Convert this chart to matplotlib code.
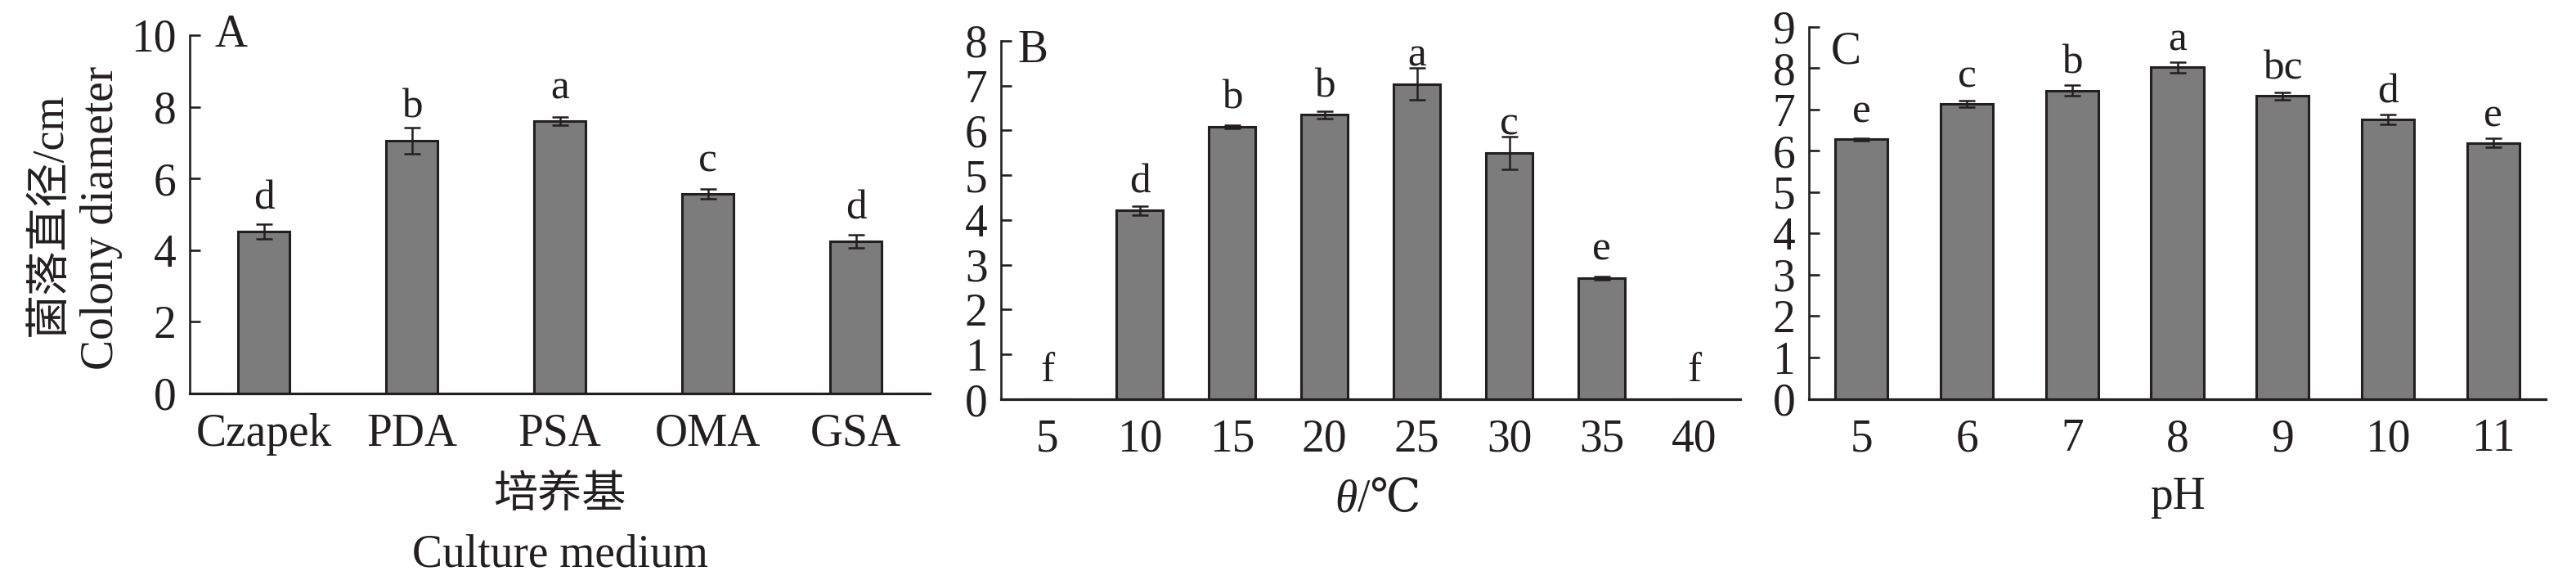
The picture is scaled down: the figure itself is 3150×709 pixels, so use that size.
import numpy as np
import matplotlib
matplotlib.use("Agg")
import matplotlib.pyplot as plt

plt.rcParams['font.family'] = ['Liberation Serif', 'Noto Sans CJK SC']
plt.rcParams['font.size'] = 40

# Panel A - culture medium
media = ["Czapek", "PDA", "PSA", "OMA", "GSA"]
media_diam = [4.52, 7.06, 7.60, 5.57, 4.24]
media_err = [0.21, 0.36, 0.12, 0.13, 0.18]
media_sig = ["d", "b", "a", "c", "d"]

# Panel B - temperature
temps = ["5", "10", "15", "20", "25", "30", "35", "40"]
temp_diam = [0, 4.21, 6.08, 6.35, 7.04, 5.50, 2.70, 0]
temp_err = [0, 0.10, 0.04, 0.08, 0.35, 0.36, 0.04, 0]
temp_sig = ["f", "d", "b", "b", "a", "c", "e", "f"]

# Panel C - pH
ph = ["5", "6", "7", "8", "9", "10", "11"]
ph_diam = [6.28, 7.13, 7.46, 8.02, 7.33, 6.76, 6.19]
ph_err = [0.03, 0.08, 0.13, 0.13, 0.09, 0.12, 0.11]
ph_sig = ["e", "c", "b", "a", "bc", "d", "e"]

BAR = "#7d7c7c"
INK = "#231f20"

fig = plt.figure(figsize=(31.5, 7.09), dpi=100)
axA = fig.add_axes([0.0737, 0.3216, 0.2873, 0.6178])
axB = fig.add_axes([0.3886, 0.3117, 0.2870, 0.6178])
axC = fig.add_axes([0.7022, 0.3124, 0.2861, 0.6411])


def panel(ax, labels, vals, errs, sig, width, ymax, ystep, tag, tag_xy, letter_off):
    x = np.arange(len(labels))
    ax.bar(x, vals, width=width, color=BAR, edgecolor=INK, linewidth=2.2, zorder=2)
    keep = [i for i in range(len(vals)) if vals[i] > 0]
    ax.errorbar(x[keep], [vals[i] for i in keep], yerr=[errs[i] for i in keep],
                fmt='none', ecolor=INK, elinewidth=1.8, capsize=7, capthick=1.8, zorder=3)
    for xi, v, s in zip(x, vals, sig):
        ax.annotate(s, xy=(xi, v), xytext=(0, letter_off), textcoords='offset points',
                    ha='center', va='baseline', color=INK, fontsize=37)
    ax.set_xlim(-0.5, len(labels) - 0.5)
    ax.set_ylim(0, ymax)
    ax.set_yticks(np.arange(0, ymax + 0.1, ystep))
    ax.set_xticks(x)
    ax.set_xticklabels(labels)
    for side in ["top", "right"]:
        ax.spines[side].set_visible(False)
    ax.spines["left"].set_linewidth(1.9)
    ax.spines["bottom"].set_linewidth(2.3)
    ax.spines["left"].set_color(INK)
    ax.spines["bottom"].set_color(INK)
    ax.tick_params(axis='y', direction='in', length=9, width=1.9, pad=12, colors=INK)
    ax.tick_params(axis='x', length=0, pad=17, colors=INK)
    ax.text(tag_xy[0], tag_xy[1], tag, transform=ax.transAxes, ha='left', va='baseline', color=INK)


panel(axA, media, media_diam, media_err, media_sig, 0.35, 10, 2, "A", (0.034, 0.968), 20)
panel(axB, temps, temp_diam, temp_err, temp_sig, 0.5, 8, 1, "B", (0.023, 0.94), 16)
panel(axC, ph, ph_diam, ph_err, ph_sig, 0.5, 9, 1, "C", (0.03, 0.903), 15)

# y label of panel A (two lines)
axA.text(-0.188, 0.5, "菌落直径/cm", transform=axA.transAxes, rotation=90,
         ha='center', va='center', color=INK, fontsize=39)
axA.text(-0.12, 0.49, "Colony diameter", transform=axA.transAxes, rotation=90,
         ha='center', va='center', color=INK)

# x labels
axA.text(0.5, -0.288, "培养基", transform=axA.transAxes, ha='center', va='center',
         color=INK, fontsize=39)
axA.text(0.5, -0.482, "Culture medium", transform=axA.transAxes, ha='center', va='baseline', color=INK)

axB.text(0.482, -0.313, "θ", transform=axB.transAxes, ha='right', va='baseline',
         style='italic', color=INK)
axB.text(0.482, -0.313, "/℃", transform=axB.transAxes, ha='left', va='baseline',
         color=INK, family=['Liberation Serif', 'DejaVu Serif', 'Noto Sans CJK SC'])

axC.text(0.5, -0.296, "pH", transform=axC.transAxes, ha='center', va='baseline', color=INK)

fig.savefig("out.png", dpi=100)
